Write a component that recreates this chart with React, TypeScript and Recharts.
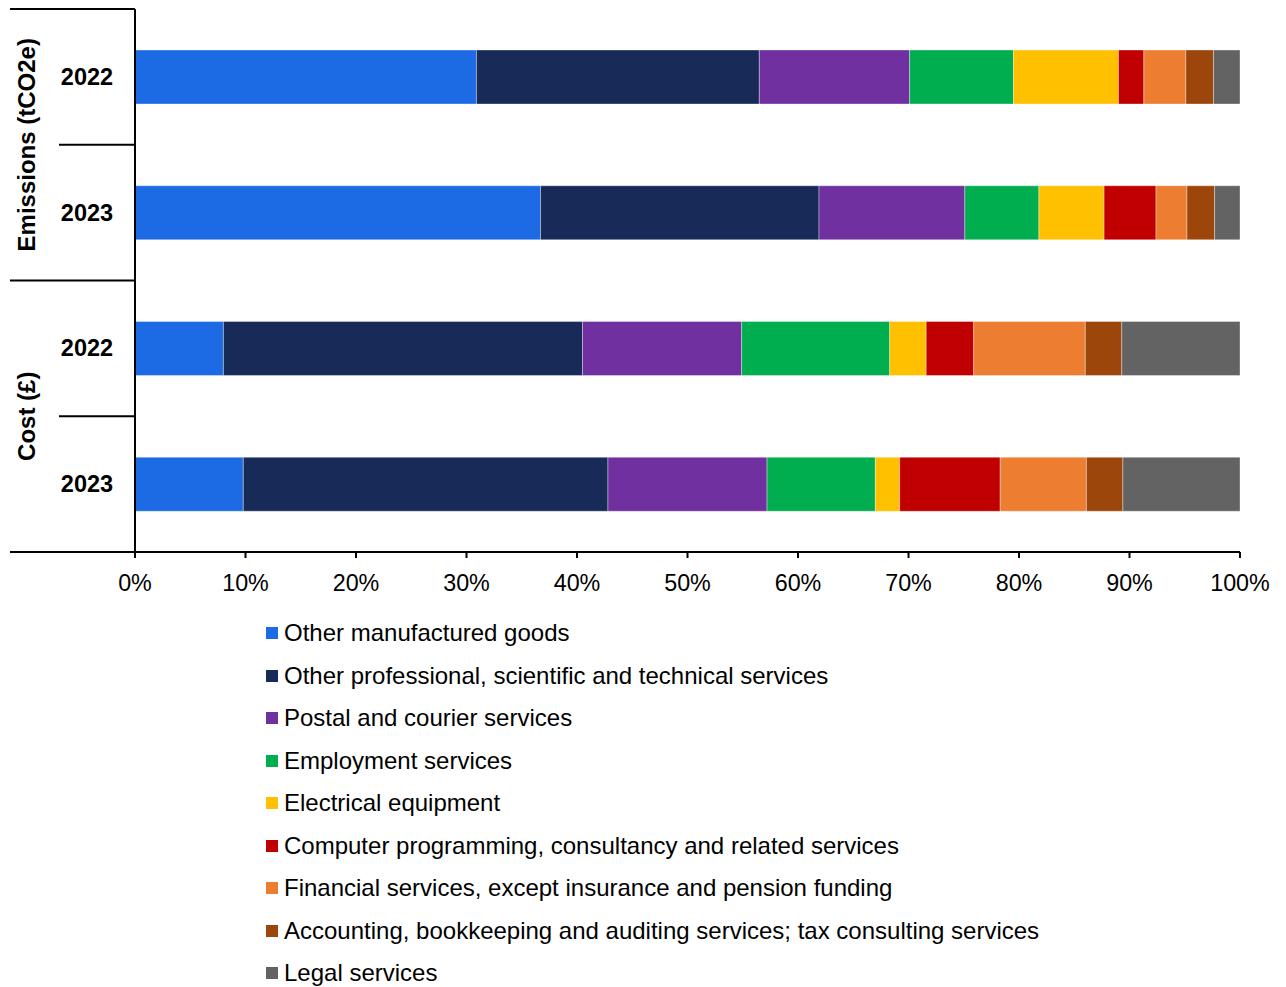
import { BarChart, Bar, XAxis, YAxis } from "recharts";

const groups = ["Emissions (tCO2e)", "Emissions (tCO2e)", "Cost (£)", "Cost (£)"];
const years = ["2022", "2023", "2022", "2023"];

const seriesNames = [
  "Other manufactured goods",
  "Other professional, scientific and technical services",
  "Postal and courier services",
  "Employment services",
  "Electrical equipment",
  "Computer programming, consultancy and related services",
  "Financial services, except insurance and pension funding",
  "Accounting, bookkeeping and auditing services; tax consulting services",
  "Legal services",
];
const colors = ["#1D6AE5", "#172A58", "#7030A0", "#00AE4F", "#FFC000", "#C00000", "#ED7D31", "#9C460C", "#636363"];

// share of each row (%), rows in order: emissions 2022, emissions 2023, cost 2022, cost 2023
const manufactured = [30.9, 36.7, 8.0, 9.8];
const professional = [25.6, 25.2, 32.5, 33.0];
const postal = [13.6, 13.2, 14.4, 14.4];
const employment = [9.4, 6.7, 13.4, 9.8];
const electrical = [9.5, 5.9, 3.3, 2.2];
const computer = [2.3, 4.7, 4.3, 9.1];
const financial = [3.8, 2.8, 10.1, 7.8];
const accounting = [2.5, 2.5, 3.3, 3.3];
const legal = [2.4, 2.3, 10.7, 10.6];

const seriesValues = [manufactured, professional, postal, employment, electrical, computer, financial, accounting, legal];
const xTicks = [0, 10, 20, 30, 40, 50, 60, 70, 80, 90, 100];

const data = years.map((yr, i) => {
  const row: Record<string, string | number> = { name: `${groups[i]} ${yr}` };
  seriesValues.forEach((vals, s) => { row[`s${s}`] = vals[i]; });
  return row;
});

const FONT = "'Liberation Sans', Arial, sans-serif";
const PLOT_TOP = 9;
const PLOT_BOTTOM = 552;
const BAND = (PLOT_BOTTOM - PLOT_TOP) / years.length;
const AXIS_X = 135;

function RowTick(props: any) {
  const { y, index } = props;
  const half = BAND / 2;
  const first = index % 2 === 0;
  return (
    <g>
      <text x={87} y={y} textAnchor="middle" dominantBaseline="central"
        fontFamily={FONT} fontWeight="bold" fontSize={23.5} fill="#000">{years[index]}</text>
      <line x1={first ? 10 : 59} x2={AXIS_X} y1={y - half} y2={y - half} stroke="#000" strokeWidth={2} />
      {!first && (
        <text transform={`translate(26, ${y - half}) rotate(-90)`} textAnchor="middle" dominantBaseline="central"
          fontFamily={FONT} fontWeight="bold" fontSize={24} fill="#000">{groups[index]}</text>
      )}
      {index === years.length - 1 && (
        <line x1={10} x2={AXIS_X} y1={y + half} y2={y + half} stroke="#000" strokeWidth={2} />
      )}
    </g>
  );
}

export default function App() {
  return (
    <div style={{ position: "absolute", left: 0, top: 0, width: 1286, height: 987, background: "#fff" }}>
      <BarChart width={1286} height={620} data={data} layout="vertical" barSize={54}
        margin={{ top: PLOT_TOP, right: 46, left: 0, bottom: 28 }}>
        <XAxis type="number" domain={[0, 100]} ticks={xTicks} allowDataOverflow
          tickFormatter={(v: number) => `${v}%`} height={40}
          stroke="#000" strokeWidth={2} tickSize={6} tickMargin={16}
          tick={{ fill: "#000", fontSize: 23.3, fontFamily: FONT }} />
        <YAxis type="category" dataKey="name" width={AXIS_X} stroke="#000" strokeWidth={2}
          tickLine={false} tick={<RowTick />} interval={0} />
        {seriesNames.map((n, s) => (
          <Bar key={n} dataKey={`s${s}`} name={n} stackId="a" fill={colors[s]}
            stroke="#ffffff" strokeOpacity={0.35} strokeWidth={1} isAnimationActive={false} />
        ))}
      </BarChart>
      <div style={{ position: "absolute", left: 266, top: 612, fontFamily: FONT, fontSize: 24, color: "#000" }}>
        {seriesNames.map((n, s) => (
          <div key={n} style={{ height: 42.5, display: "flex", alignItems: "center", whiteSpace: "nowrap" }}>
            <span style={{ width: 12, height: 12, background: colors[s], marginRight: 6, display: "inline-block" }} />
            {n}
          </div>
        ))}
      </div>
    </div>
  );
}
